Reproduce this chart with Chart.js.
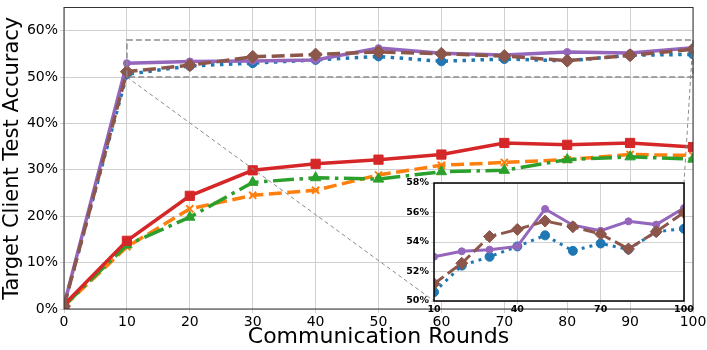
<!DOCTYPE html>
<html>
<head>
<meta charset="utf-8">
<script src="https://cdn.jsdelivr.net/npm/chart.js@4.4.0/dist/chart.umd.min.js"></script>
<style>
  body { margin: 0; background: #fff; }
  #wrap { position: relative; width: 707px; height: 350px; }
  #main { position: absolute; left: 0; top: 0; }
  #zoom { position: absolute; left: 398px; top: 176px; }
</style>
</head>
<body>
<div id="wrap">
  <canvas id="main" width="707" height="350"></canvas>
  <canvas id="zoom" width="296" height="142"></canvas>
</div>
<script>
// donnees (en %)
const rounds = [0, 10, 20, 30, 40, 50, 60, 70, 80, 90, 100];
const blueAcc = [0.8, 50.6, 52.4, 53.0, 53.7, 54.45, 53.4, 53.9, 53.5, 54.7, 54.9];
const orangeAcc = [0.6, 13.4, 21.6, 24.5, 25.6, 28.9, 31.0, 31.6, 32.2, 33.3, 33.1];
const greenAcc = [0.7, 13.8, 19.8, 27.3, 28.3, 28.0, 29.6, 29.9, 32.2, 32.8, 32.3];
const redAcc = [0.9, 14.7, 24.4, 29.9, 31.3, 32.2, 33.3, 35.8, 35.4, 35.8, 34.9];
const purpleAcc = [0.8, 53.0, 53.37, 53.48, 53.7, 56.24, 55.14, 54.76, 55.4, 55.18, 56.3];
const brownAcc = [0.6, 51.17, 52.56, 54.37, 54.85, 55.42, 55.03, 54.54, 53.53, 54.7, 56.0];

const yTicksMain = [0, 10, 20, 30, 40, 50, 60];
const xTicksZoom = [10, 40, 70, 100];
const yTicksZoom = [50, 52, 54, 56, 58];
// zone agrandie
const zoomX = [10, 100];
const zoomY = [50, 58];

const FONT = "'DejaVu Sans', sans-serif";

function pts(arr, from) {
    return rounds.slice(from || 0).map((r, i) => ({ x: r, y: arr[i + (from || 0)] }));
}

function serie(arr, color, style, dash, pStyle, rad, order, from) {
    return {
        data: pts(arr, from),
        borderColor: color,
        backgroundColor: color,
        borderWidth: style.lw,
        borderDash: dash,
        pointStyle: pStyle,
        pointRadius: rad,
        pointBorderWidth: pStyle === 'crossRot' ? 2 : 1,
        pointBorderColor: color,
        pointBackgroundColor: color,
        tension: 0,
        order: order
    };
}

// pas de marge automatique pour les etiquettes
function noPad(s) {
    s.paddingTop = 0; s.paddingBottom = 0; s.paddingLeft = 0; s.paddingRight = 0;
}

// cadre noir autour de la zone de trace
const boxPlugin = {
    id: 'box',
    beforeDraw(chart, args, opts) {
        if (opts.fill) {
            const a = chart.chartArea, ctx = chart.ctx;
            ctx.save();
            ctx.fillStyle = '#fff';
            ctx.fillRect(a.left, a.top, a.right - a.left, a.bottom - a.top);
            ctx.restore();
        }
    },
    afterDraw(chart, args, opts) {
        const a = chart.chartArea, ctx = chart.ctx;
        ctx.save();
        ctx.strokeStyle = opts.color || '#333';
        ctx.lineWidth = opts.width || 1;
        ctx.strokeRect(a.left, a.top, a.right - a.left, a.bottom - a.top);
        ctx.restore();
    }
};

var lw = { lw: 3.5 };
var lwZ = { lw: 3 };

// petit graphique (inset)
var zoomChart = new Chart(document.getElementById('zoom').getContext('2d'), {
    type: 'line',
    data: {
        datasets: [
            serie(blueAcc, '#1f77b4', lwZ, [3, 5], 'circle', 4.5, 3, 1),
            serie(purpleAcc, '#9467bd', lwZ, [], 'circle', 3.5, 2, 1),
            serie(brownAcc, '#8c564b', lwZ, [12, 5], 'rectRot', 6, 1, 1)
        ]
    },
    options: {
        responsive: false,
        animation: false,
        layout: { padding: { top: 2, right: 10, left: 0, bottom: 0 } },
        plugins: { legend: { display: false }, tooltip: { enabled: false }, box: { fill: true, color: '#000', width: 1.5 } },
        scales: {
            x: {
                type: 'linear', min: zoomX[0], max: zoomX[1],
                afterBuildTicks: s => { s.ticks = xTicksZoom.map(v => ({ value: v })); },
                afterFit: s => { s.height = 17; noPad(s); },
                grid: { color: '#d3d3d3', tickLength: 3, drawTicks: true },
                border: { display: false },
                ticks: { font: { family: FONT, size: 9.5, weight: 'bold' }, color: '#000', padding: 0, maxRotation: 0 }
            },
            y: {
                type: 'linear', min: zoomY[0], max: zoomY[1],
                afterBuildTicks: s => { s.ticks = yTicksZoom.map(v => ({ value: v })); },
                afterFit: s => { s.width = 36; noPad(s); },
                grid: { color: '#d3d3d3', tickLength: 3 },
                border: { display: false },
                ticks: { font: { family: FONT, size: 9.5, weight: 'bold' }, color: '#000', padding: 2, callback: v => v + '%' }
            }
        }
    },
    plugins: [boxPlugin]
});

// rectangle pointille + lignes de rappel vers l'inset
const markPlugin = {
    id: 'mark',
    afterDatasetsDraw(chart) {
        const ctx = chart.ctx, xs = chart.scales.x, ys = chart.scales.y;
        const x0 = xs.getPixelForValue(zoomX[0]), x1 = xs.getPixelForValue(zoomX[1]);
        const y0 = ys.getPixelForValue(zoomY[0]), y1 = ys.getPixelForValue(zoomY[1]);
        const cv = document.getElementById('zoom');
        const za = zoomChart.chartArea;
        const zl = cv.offsetLeft + za.left, zr = cv.offsetLeft + za.right;
        const zt = cv.offsetTop + za.top, zb = cv.offsetTop + za.bottom;
        ctx.save();
        ctx.strokeStyle = '#8a8a8a';
        ctx.lineWidth = 1.5;
        ctx.setLineDash([6, 3]);
        ctx.strokeRect(x0, y1, x1 - x0, y0 - y1);
        ctx.lineWidth = 1;
        ctx.setLineDash([4, 3]);
        ctx.beginPath();
        ctx.moveTo(x0, y0); ctx.lineTo(zl, zb);
        ctx.moveTo(x1, y1); ctx.lineTo(zr, zt);
        ctx.stroke();
        ctx.restore();
    }
};

var mainChart = new Chart(document.getElementById('main').getContext('2d'), {
    type: 'line',
    data: {
        datasets: [
            serie(blueAcc, '#1f77b4', lw, [3.5, 5.5], 'circle', 4.5, 6),
            serie(orangeAcc, '#ff7f0e', lw, [13, 5.5], 'crossRot', 5, 5),
            serie(greenAcc, '#2ca02c', lw, [21, 5.5, 3.5, 5.5], 'triangle', 6, 4),
            serie(redAcc, '#d62728', lw, [], 'rect', 6.5, 3),
            serie(purpleAcc, '#9467bd', lw, [], 'circle', 3.5, 2),
            serie(brownAcc, '#8c564b', lw, [13, 5.5], 'rectRot', 6.5, 1)
        ]
    },
    options: {
        responsive: false,
        animation: false,
        layout: { padding: { top: 1, right: 14, left: 0, bottom: 0 } },
        plugins: { legend: { display: false }, tooltip: { enabled: false }, box: { color: '#333', width: 1 } },
        scales: {
            x: {
                type: 'linear', min: 0, max: 100,
                afterBuildTicks: s => { s.ticks = rounds.map(v => ({ value: v })); },
                afterFit: s => { s.height = 41; noPad(s); },
                grid: { color: '#d0d0d0', tickLength: 4 },
                border: { display: false },
                ticks: { font: { family: FONT, size: 14 }, color: '#000', padding: 1, maxRotation: 0 },
                title: { display: true, text: 'Communication Rounds', font: { family: FONT, size: 22 }, color: '#000', padding: 0 }
            },
            y: {
                type: 'linear', min: 0, max: 65,
                afterBuildTicks: s => { s.ticks = yTicksMain.map(v => ({ value: v })); },
                afterFit: s => { s.width = 64; noPad(s); },
                grid: { color: '#d0d0d0', tickLength: 4 },
                border: { display: false },
                ticks: { font: { family: FONT, size: 14 }, color: '#000', padding: 2, callback: v => v + '%' },
                title: { display: true, text: 'Target Client Test Accuracy', font: { family: FONT, size: 21 }, color: '#000', padding: 0 }
            }
        }
    },
    plugins: [boxPlugin, markPlugin]
});
</script>
</body>
</html>
